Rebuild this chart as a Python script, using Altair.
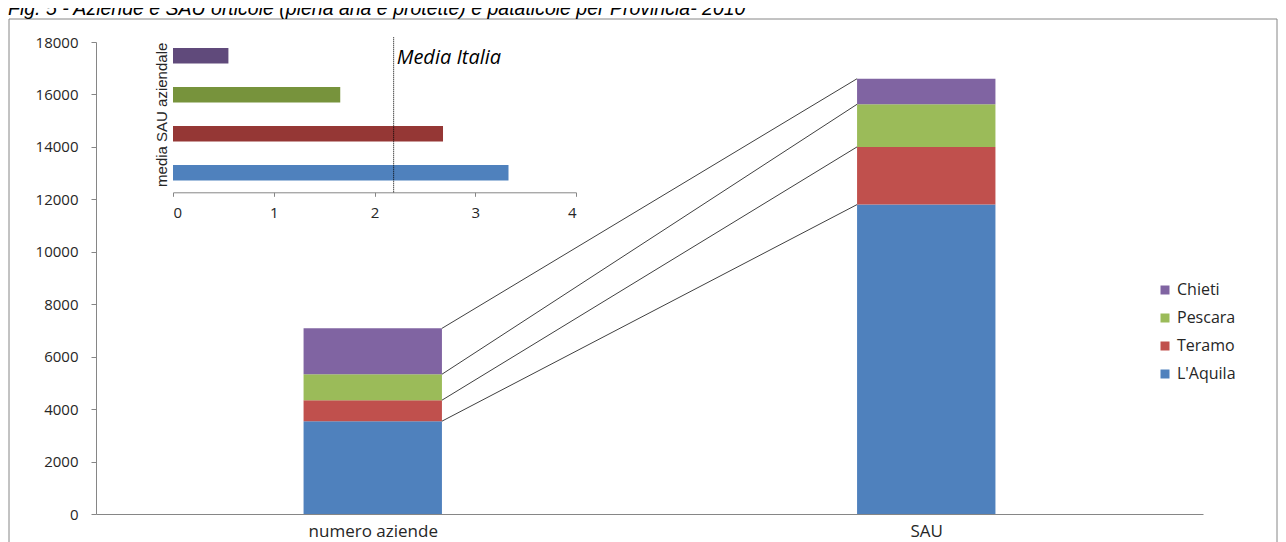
import altair as alt
import pandas as pd

TITLE = "Fig. 5 - Aziende e SAU orticole (piena aria e protette) e pataticole per Provincia- 2010"
CATEGORIES = ["numero aziende", "SAU"]
PROVINCE = ["L'Aquila", "Teramo", "Pescara", "Chieti"]
AZIENDE = [3540, 800, 990, 1750]
SAU = [11800, 2200, 1625, 975]
MEDIA_SAU = [3.33, 2.68, 1.66, 0.55]
MEDIA_ITALIA = 2.19
MEDIA_LABEL = "Media Italia"
INSET_TITLE = "media SAU aziendale"
Y_TICKS = list(range(0, 18001, 2000))
INSET_TICKS = [0, 1, 2, 3, 4]

COLORS = {"L'Aquila": "#4F81BD", "Teramo": "#C0504D", "Pescara": "#9BBB59", "Chieti": "#8064A2"}
INSET_COLORS = {"L'Aquila": "#4F81BD", "Teramo": "#953735", "Pescara": "#77933C", "Chieti": "#604A7B"}

W, H = 1107, 472
PAD = {"left": 88, "top": 34, "right": 75, "bottom": 28}
BAR_HALF = 0.125
INSET_BAR_HALF = 0.2
GRAY = "#868686"
TXT = "#262626"

# main stacked bars
rows = []
for ci, (cat, vals) in enumerate(zip(CATEGORIES, [AZIENDE, SAU])):
    base = 0
    for p, v in zip(PROVINCE, vals):
        rows.append(dict(cat=cat, prov=p, x0=ci + 0.5 - BAR_HALF, x1=ci + 0.5 + BAR_HALF,
                         y0=base, y1=base + v))
        base += v
bars_df = pd.DataFrame(rows)

# connectors between segment tops
conn = []
ca, cs = 0, 0
for p, a, s in zip(PROVINCE, AZIENDE, SAU):
    ca += a
    cs += s
    conn.append(dict(prov=p, xa=0.5 + BAR_HALF, xb=1.5 - BAR_HALF, ya=ca, yb=cs))
conn_df = pd.DataFrame(conn)

inset_df = pd.DataFrame({
    "prov": PROVINCE,
    "val": MEDIA_SAU,
    "yb0": [i + 0.5 - INSET_BAR_HALF for i in range(len(PROVINCE))],
    "yb1": [i + 0.5 + INSET_BAR_HALF for i in range(len(PROVINCE))],
})
one = pd.DataFrame({"t": [TITLE]})

legend_order = list(reversed(PROVINCE))
label_expr = " : ".join(
    [f"datum.value == {i + 0.5} ? '{c}'" for i, c in enumerate(CATEGORIES)] + ["''"]
)

xs = alt.Scale(domain=[0, 2], nice=False, zero=False)
ys = alt.Scale(domain=[0, 18000], nice=False)

bars = alt.Chart(bars_df).mark_bar(strokeWidth=0).encode(
    x=alt.X("x0:Q", scale=xs,
            axis=alt.Axis(values=[i + 0.5 for i in range(len(CATEGORIES))], labelExpr=label_expr,
                          title=None, grid=False, ticks=False, domainColor=GRAY,
                          labelFont="Open Sans", labelFontSize=17, labelColor=TXT, labelPadding=9)),
    x2="x1:Q",
    y=alt.Y("y1:Q", scale=ys,
            axis=alt.Axis(values=Y_TICKS, format="d", title=None, grid=False, tickSize=5,
                          tickColor=GRAY, domainColor=GRAY, labelFont="Open Sans", labelFontSize=15,
                          labelColor=TXT, labelPadding=13)),
    y2="y0:Q",
    color=alt.Color("prov:N",
                    scale=alt.Scale(domain=legend_order, range=[COLORS[p] for p in legend_order]),
                    legend=alt.Legend(title=None, orient="none", legendX=1061, legendY=240,
                                      symbolType="square", symbolSize=81, symbolStrokeWidth=0,
                                      labelFont="Open Sans", labelFontSize=16, labelColor=TXT,
                                      rowPadding=12, labelOffset=4)),
)

rules = alt.Chart(conn_df).mark_rule(color="#404040", strokeWidth=1).encode(
    x="xa:Q", x2="xb:Q", y="ya:Q", y2="yb:Q"
)

border = alt.Chart(one).mark_rect(fillOpacity=0, stroke=GRAY, strokeWidth=1).encode(
    x=alt.value(-87), x2=alt.value(1181), y=alt.value(-23), y2=alt.value(600)
)

title = alt.Chart(one).mark_text(align="left", baseline="alphabetic", fontStyle="italic",
                                 font="Liberation Sans", fontSize=19.5, color="#000").encode(
    x=alt.value(-88), y=alt.value(-27), text="t:N"
)

main = alt.layer(border, bars, rules, title)

ixs = alt.Scale(domain=[0, 4], range=[77, 480], nice=False)
iys = alt.Scale(domain=[0, 4], range=[150.3, -5.7], nice=False)

inset_bars = alt.Chart(inset_df).mark_bar(strokeWidth=0).encode(
    x=alt.X("val:Q", scale=ixs,
            axis=alt.Axis(orient="bottom", offset=-321.7, values=INSET_TICKS, format="d",
                          title=None, grid=False, tickSize=4, tickColor=GRAY, domainColor=GRAY,
                          labelFont="Open Sans", labelFontSize=15, labelColor=TXT,
                          labelPadding=9)),
    x2=alt.datum(0),
    y=alt.Y("yb0:Q", scale=iys,
            axis=alt.Axis(orient="left", offset=-77, domain=False, ticks=False, labels=False,
                          grid=False, title=INSET_TITLE, titleFont="Liberation Sans",
                          titleFontSize=15, titleFontWeight="normal", titleColor=TXT,
                          titlePadding=4)),
    y2="yb1:Q",
    color=alt.Color("prov:N",
                    scale=alt.Scale(domain=PROVINCE, range=[INSET_COLORS[p] for p in PROVINCE]),
                    legend=None),
)

media_rule = alt.Chart(one).mark_rule(color="#000", strokeWidth=1, strokeDash=[1, 1]).encode(
    x=alt.datum(MEDIA_ITALIA), y=alt.datum(0), y2=alt.datum(4)
)
media_text = alt.Chart(one).mark_text(align="left", baseline="middle", dx=3, dy=2,
                                      fontStyle="italic", font="Open Sans", fontSize=20,
                                      color="#000").encode(
    x=alt.datum(MEDIA_ITALIA), y=alt.datum(3.5), text=alt.value(MEDIA_LABEL)
)

inset = alt.layer(inset_bars, media_rule, media_text)

chart = alt.layer(main, inset).resolve_scale(
    x="independent", y="independent", color="independent"
).properties(
    width=W, height=H, padding=PAD, autosize=alt.AutoSizeParams(type="none")
).configure_view(strokeWidth=0)

chart.save("out.html", embed_options={"renderer": "svg", "actions": False})
